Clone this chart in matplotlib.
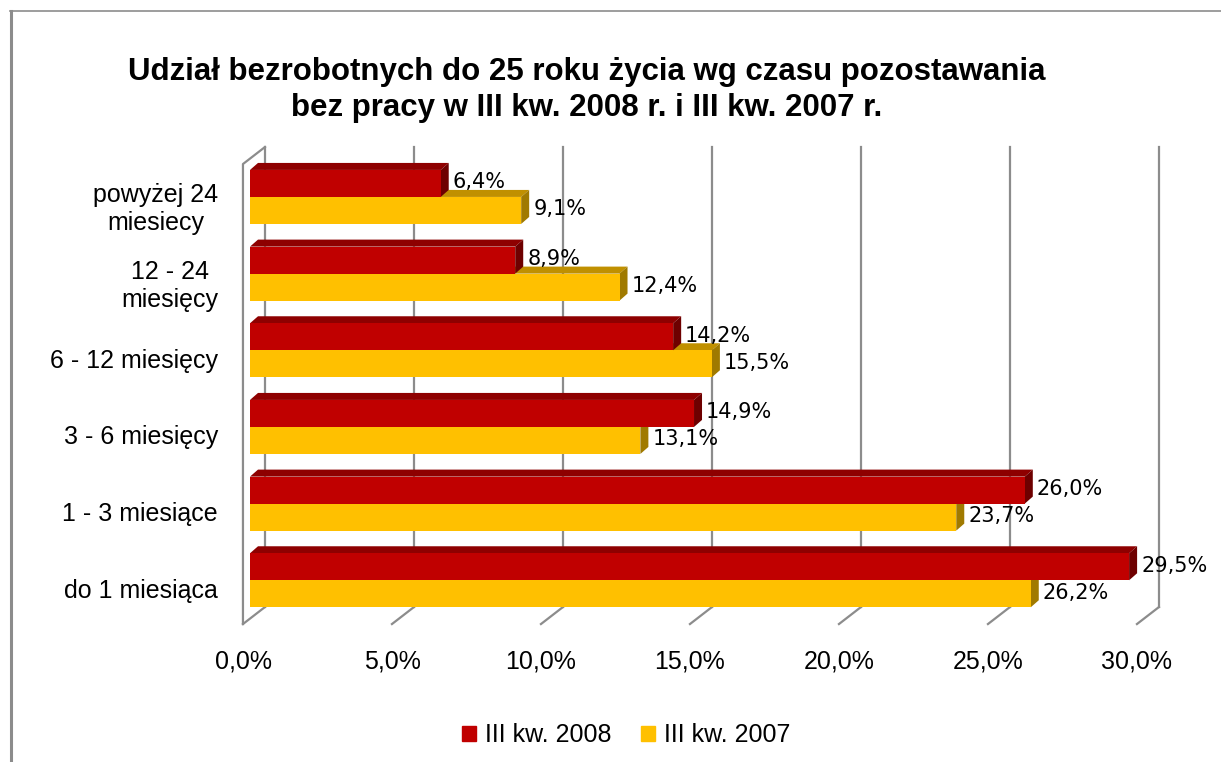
import numpy as np
import matplotlib.pyplot as plt
from matplotlib.patches import Polygon, Patch
from matplotlib.lines import Line2D
from matplotlib.transforms import ScaledTranslation

categories = ['do 1 miesiąca', '1 - 3 miesiące', '3 - 6 miesięcy',
              '6 - 12 miesięcy', '12 - 24\nmiesięcy', 'powyżej 24\nmiesiecy']
q3_2008 = [29.5, 26.0, 14.9, 14.2, 8.9, 6.4]
q3_2007 = [26.2, 23.7, 13.1, 15.5, 12.4, 9.1]
series = ['III kw. 2008', 'III kw. 2007']
xticks = [0, 5, 10, 15, 20, 25, 30]
title = 'Udział bezrobotnych do 25 roku życia wg czasu pozostawania\nbez pracy w III kw. 2008 r. i III kw. 2007 r.'

# front / top / side shades
red = ['#C00000', '#8E0000', '#6E0000']
gold = ['#FFC000', '#C09000', '#A07A00']
grid_col = '#8C8C8C'

plt.rcParams['font.family'] = ['Liberation Sans', 'DejaVu Sans']

W, H = 1221, 762
fig = plt.figure(figsize=(W / 100, H / 100), dpi=100)
ax = fig.add_axes([250 / W, 1 - 618.6 / H, 894 / W, 460 / H])
n = len(categories)
ax.set_xlim(0, 30)
ax.set_ylim(-0.5, n - 0.5)

# pixel -> data units
px = 30 / 894
py = n / 460
Dx, Dy = 22 * px, 17 * py   # full depth of the 3d box
bx, by = 8 * px, 7 * py     # depth of a bar
bar_h = 27 * py

ypos = np.arange(n)


def draw_bars(vals, y0, cols, z):
    ax.barh(y0, vals, height=bar_h, align='edge', color=cols[0], zorder=z + 1)
    for v, y in zip(vals, y0):
        top = [(0, y + bar_h), (v, y + bar_h), (v + bx, y + bar_h + by), (bx, y + bar_h + by)]
        side = [(v, y), (v, y + bar_h), (v + bx, y + bar_h + by), (v + bx, y + by)]
        ax.add_patch(Polygon(top, closed=True, color=cols[1], lw=0, zorder=z))
        ax.add_patch(Polygon(side, closed=True, color=cols[2], lw=0, zorder=z))


draw_bars(q3_2007, ypos - bar_h, gold, 3)
draw_bars(q3_2008, ypos, red, 5)

# back gridlines + floor ticks
ybot, ytop = -0.5, n - 0.5
for t in xticks:
    ax.plot([t + 0.68 * Dx] * 2, [ybot + 0.68 * Dy, ytop + 0.68 * Dy],
            color=grid_col, lw=1.6, zorder=1, clip_on=False)
    ax.plot([t + 0.68 * Dx, t - 0.32 * Dx], [ybot + 0.68 * Dy, ybot - 0.32 * Dy],
            color=grid_col, lw=1.6, zorder=1, clip_on=False)
# left wall edge
ax.plot([-0.32 * Dx, -0.32 * Dx, 0.68 * Dx], [ybot - 0.32 * Dy, ytop - 0.32 * Dy, ytop + 0.68 * Dy],
        color=grid_col, lw=1.6, zorder=1, clip_on=False)

# value labels
for vals, y0 in ((q3_2008, ypos), (q3_2007, ypos - bar_h)):
    for v, y in zip(vals, y0):
        ax.text(v + 12 * px, y + bar_h / 2 + 1 * py, f'{v:.1f}%'.replace('.', ','),
                family='DejaVu Sans', fontsize=15, va='center', ha='left', zorder=8)

for s in ax.spines.values():
    s.set_visible(False)
ax.set_xticks(xticks)
ax.set_xticklabels([f'{t:.1f}%'.replace('.', ',') for t in xticks], fontsize=18)
ax.set_yticks(ypos)
ax.set_yticklabels(categories, fontsize=18, multialignment='center')
ax.tick_params(length=0)
ax.tick_params(axis='x', pad=22)
ax.tick_params(axis='y', pad=23)
sx = ScaledTranslation(-7 / 100, 0, fig.dpi_scale_trans)
for lab in ax.get_xticklabels():
    lab.set_transform(lab.get_transform() + sx)
sy = ScaledTranslation(0, -8 / 100, fig.dpi_scale_trans)
for lab in ax.get_yticklabels():
    lab.set_transform(lab.get_transform() + sy)

fig.text(587 / W, 1 - 90 / H, title, ha='center', va='center',
         fontsize=22.5, fontweight='bold', linespacing=1.3)

fig.legend(handles=[Patch(color=red[0]), Patch(color=gold[0])], labels=series,
           loc='center', bbox_to_anchor=(626 / W, 1 - 735 / H), ncol=2, frameon=False,
           fontsize=18, handlelength=0.55, handleheight=0.55, handletextpad=0.35,
           columnspacing=1.2)

# outer frame
fig.add_artist(Line2D([11 / W, 11 / W], [0, 1 - 11 / H], color='#8C8C8C', lw=2.2))
fig.add_artist(Line2D([10 / W, 1], [1 - 11 / H, 1 - 11 / H], color='#8C8C8C', lw=1.2))

fig.savefig('out.png', dpi=100)
